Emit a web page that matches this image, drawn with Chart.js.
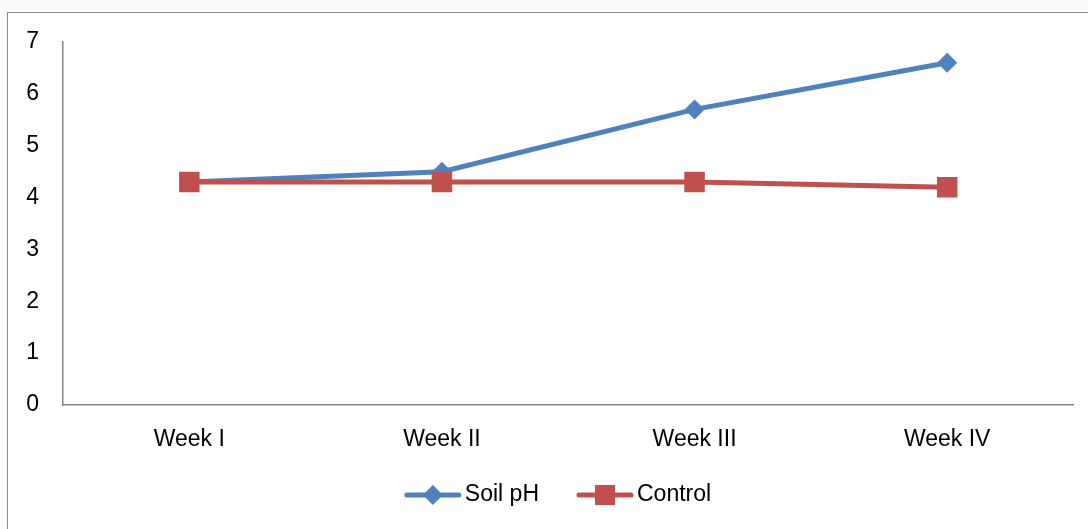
<!DOCTYPE html>
<html>
<head>
<meta charset="utf-8">
<script src="https://cdn.jsdelivr.net/npm/chart.js@4"></script>
<style>
  html, body { margin: 0; padding: 0; background: #fafafa; }
  #frame { position: absolute; left: 7px; top: 12px; width: 1090px; height: 525px;
           border: 1px solid #898989; background: #fff; }
  #wrap { position: absolute; left: 0; top: 0; width: 1088px; height: 529px; }
</style>
</head>
<body>
<div id="frame"></div>
<div id="wrap"><canvas id="soilChart"></canvas></div>
<script>
// weekly readings
const weeks = ["Week I", "Week II", "Week III", "Week IV"];
const soilPh = [4.3, 4.5, 5.7, 6.6];
const control = [4.3, 4.3, 4.3, 4.2];

const FONT = "'Liberation Sans', Arial, sans-serif";

// Excel-style legend: line with marker in the middle, then label
const lineLegend = {
    id: "lineLegend",
    afterDraw(chart) {
        const ctx = chart.ctx;
        const y = 495;
        const lineLen = 56;
        const gap = 4;
        const itemGap = 38;
        ctx.save();
        ctx.font = "23px " + FONT;
        const items = chart.data.datasets.map(ds => ({ ds, w: lineLen + gap + ctx.measureText(ds.label).width }));
        const total = items.reduce((s, it) => s + it.w, 0) + itemGap * (items.length - 1);
        let x = 558 - total / 2;
        items.forEach(({ ds, w }) => {
            ctx.strokeStyle = ds.borderColor;
            ctx.lineWidth = 5;
            ctx.lineCap = "round";
            ctx.beginPath();
            ctx.moveTo(x + 2, y);
            ctx.lineTo(x + lineLen - 2, y);
            ctx.stroke();
            const cx = x + lineLen / 2;
            ctx.fillStyle = ds.backgroundColor;
            ctx.beginPath();
            if (ds.pointStyle === "rectRot") {
                ctx.moveTo(cx, y - 10);
                ctx.lineTo(cx + 10, y);
                ctx.lineTo(cx, y + 10);
                ctx.lineTo(cx - 10, y);
                ctx.closePath();
            } else {
                ctx.rect(cx - 10, y - 10, 20, 20);
            }
            ctx.fill();
            ctx.fillStyle = "#000";
            ctx.textBaseline = "middle";
            ctx.textAlign = "left";
            ctx.fillText(ds.label, x + lineLen + gap, y);
            x += w + itemGap;
        });
        ctx.restore();
    }
};

const ctx = document.getElementById("soilChart").getContext("2d");
new Chart(ctx, {
    type: "line",
    data: {
        labels: weeks,
        datasets: [
            {
                label: "Soil pH",
                data: soilPh,
                order: 1, // control line sits on top
                borderColor: "#4f81bd",
                backgroundColor: "#4f81bd",
                borderWidth: 5,
                tension: 0,
                pointStyle: "rectRot",
                pointRadius: 10,
                pointBorderWidth: 0,
                pointHoverRadius: 10
            },
            {
                label: "Control",
                data: control,
                order: 0,
                borderColor: "#c0504d",
                backgroundColor: "#c0504d",
                borderWidth: 5,
                tension: 0,
                pointStyle: "rect",
                pointRadius: 14.5,
                pointBorderWidth: 0,
                pointHoverRadius: 14.5
            }
        ]
    },
    options: {
        responsive: true,
        maintainAspectRatio: false,
        animation: false,
        layout: { padding: { top: 42, right: 12, left: 0, bottom: 0 } },
        plugins: {
            legend: { display: false },
            tooltip: { enabled: false }
        },
        scales: {
            x: {
                offset: true,
                grid: { display: false, drawTicks: false },
                border: { display: true, color: "#868686", width: 1.5 },
                ticks: { color: "#000", font: { family: FONT, size: 23 }, padding: 21, maxRotation: 0 },
                afterFit(scale) { scale.height = 124; }
            },
            y: {
                min: 0,
                max: 7,
                grid: { display: false, drawTicks: false },
                border: { display: true, color: "#868686", width: 1.5 },
                ticks: { stepSize: 1, color: "#000", font: { family: FONT, size: 23 }, padding: 24 },
                afterFit(scale) { scale.width = 63; }
            }
        }
    },
    plugins: [lineLegend]
});
</script>
</body>
</html>
